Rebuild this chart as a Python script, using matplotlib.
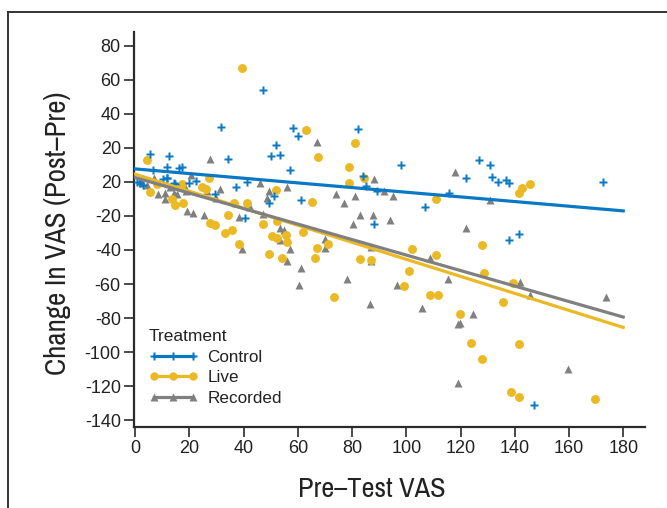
import matplotlib
matplotlib.use("Agg")
import matplotlib.pyplot as plt
from matplotlib.lines import Line2D
from matplotlib import font_manager as fm
import numpy as np

plt.rcParams['font.family'] = ['Liberation Sans', 'DejaVu Sans']

# pick a condensed sans (for the axis titles) if one is installed
def pick_font():
    cands = []
    for f in fm.fontManager.ttflist:
        nm = f.name.lower()
        st = str(f.stretch).lower()
        fn = f.fname.lower()
        if f.weight not in (400, 'normal', 'regular'):
            continue
        if 'italic' in str(f.style).lower() or 'oblique' in str(f.style).lower():
            continue
        if 'bold' in fn or 'oblique' in fn or 'italic' in fn:
            continue
        if 'narrow' in nm or 'narrow' in fn:
            cands.append((0, f.fname))
        elif 'condensed' in nm or 'condensed' in st or 'condensed' in fn:
            cands.append((1, f.fname))
    cands.sort()
    return cands[0][1] if cands else None

font_file = pick_font()
if font_file:
    label_font = dict(fontproperties=fm.FontProperties(fname=font_file))
    cond = True
else:
    label_font = {}
    cond = False

# ---- data ----
control_x = [5.4, 6.6, 12.4, 11.6, 11.6, 0.6, 1.8, 16.3, 17.4, 14.6, 22.3, 31.5, 34.3, 37.1,
             41.3, 40.4, 47.2, 50.2, 52.1, 49.2, 51.1, 53.6, 58.2, 60.2, 57.2, 61.2, 82.1,
             84.2, 85.2, 89.1, 88.1, 98.0, 106.9, 115.9, 121.9, 126.8, 130.8, 131.7, 133.7,
             136.7, 138.0, 172.4, 137.7, 141.6, 147.2, 11.9, 10.2, 14.3, 20.0, 29.6, 3.0]
control_y = [16.6, 6.9, 14.9, 8.8, 2.2, 0.0, -0.4, 8.0, 8.8, -1.0, 0.2, 32.5, 13.7, -3.3,
             0.0, -21.0, 54.0, 14.9, 21.8, -12.7, -8.6, 15.9, 31.8, 26.7, 6.9, -10.4, 30.8,
             3.4, -2.2, -5.3, -25.0, 9.6, -15.0, -6.3, 2.0, 12.7, 9.6, 2.7, 0.0,
             1.0, -0.4, 0.0, -34.3, -30.4, -130.8, 2.5, 1.6, -0.8, -0.8, -6.9, -2.0]

live_x = [39.3, 4.5, 5.5, 27.4, 24.7, 26.0, 8.2, 17.4, 13.7, 14.7, 17.6, 34.3, 36.4, 27.8,
          29.6, 35.8, 41.3, 47.2, 52.1, 52.3, 33.3, 38.2, 49.3, 54.1, 50.5, 52.3, 55.6,
          67.3, 79.0, 84.4, 79.0, 65.2, 110.9, 62.1, 56.2, 67.1, 71.3, 66.2, 83.0, 86.9,
          102.0, 101.0, 110.9, 73.2, 99.2, 108.8, 111.8, 63.1, 81.2, 141.6, 142.5, 145.6,
          127.8, 128.6, 139.4, 135.7, 119.8, 123.7, 127.8, 141.6, 138.8, 141.6, 169.5]
live_y = [66.9, 12.8, -5.7, 2.5, -3.3, -4.3, -1.4, -1.4, -10.2, -13.5, -12.5, -19.4, -12.2, -24.3,
          -25.5, -28.4, -12.5, -24.5, -4.7, -23.0, -30.2, -36.3, -42.5, -44.5, -31.8, -33.1, -31.4,
          14.7, 8.8, 2.5, -0.4, -11.6, -10.2, -29.4, -35.3, -38.6, -36.7, -44.5, -45.5, -46.1,
          -39.6, -52.4, -43.1, -67.5, -61.2, -66.5, -66.5, 30.6, 22.8, -6.3, -3.7, -1.4,
          -37.3, -53.3, -59.2, -70.4, -77.5, -94.5, -104.3, -95.5, -123.5, -126.5, -127.5]

rec_x = [27.5, 20.5, 1.8, 2.6, 4.5, 6.9, 8.5, 11.2, 11.2, 12.7, 15.5, 18.6, 19.2, 21.3, 25.3,
         26.6, 31.2, 30.0, 42.5, 38.2, 46.2, 49.2, 47.2, 53.6, 39.5, 14.3, 18.3, 48.7, 55.0,
         53.3, 56.0, 56.2, 88.1, 91.9, 95.0, 74.2, 81.2, 77.2, 83.0, 87.9, 94.0, 80.2,
         70.1, 70.1, 57.2, 61.2, 60.3, 78.1, 87.0, 87.0, 96.7, 108.8, 115.5, 86.7, 67.1,
         117.9, 121.9, 130.8, 141.9, 145.6, 173.5, 124.7, 119.8, 105.9, 118.9, 159.7, 118.9]
rec_y = [13.7, 3.9, 0.6, -0.4, -1.8, 2.5, -6.9, -6.3, -10.2, -3.3, -6.9, -5.3, -17.1, -18.4, -19.6,
         -5.3, -4.3, -9.2, -14.5, -20.4, -0.4, -5.3, -18.6, -27.2, -39.6, -6.3, -3.3, -9.2, -28.2,
         -34.3, -46.5, -3.3, 1.6, -5.3, -8.6, -7.3, -8.2, -12.5, -19.6, -19.6, -22.5, -24.5,
         -33.7, -38.6, -39.6, -50.4, -60.6, -57.3, -38.2, -46.5, -60.6, -44.5, -57.3, -71.8, 23.5,
         5.5, -26.9, -10.6, -58.6, -66.5, -67.5, -77.5, -82.8, -73.9, -83.7, -109.8, -118.0]

# fitted lines: (intercept, slope)
fit_control = (7.6, -0.137)
fit_live = (4.5, -0.50)
fit_rec = (2.5, -0.455)
fit_x = [0, 180]

series_names = ['Control', 'Live', 'Recorded']
xticks = [0, 20, 40, 60, 80, 100, 120, 140, 160, 180]
yticks = [80, 60, 40, 20, 0, -20, -40, -60, -80, -100, -120, -140]
ytick_labels = ['80', '60', '40', '20', '20', '-20', '-40', '-60', '-80', '-100', '-120', '-140']

# ---- styling ----
c_blue = '#0a78c4'
c_yellow = '#ebb923'
c_gray = '#808080'
axis_c = '#2b2b2b'
txt_c = '#222222'

fig = plt.figure(figsize=(6.67, 5.08), dpi=100)
ax = fig.add_axes([0.2009, 0.1594, 0.766, 0.7776])

# frame around figure
fig.add_artist(Line2D([8/667, 8/667], [0, 1 - 12/508], transform=fig.transFigure,
                      color='#333333', lw=1.4))
fig.add_artist(Line2D([8/667, 1], [1 - 12/508, 1 - 12/508], transform=fig.transFigure,
                      color='#333333', lw=1.4))

ms = 6.4
ax.plot(rec_x, rec_y, linestyle='none', marker='^', ms=ms, color=c_gray, mec='none', zorder=3)
ax.plot(live_x, live_y, linestyle='none', marker='o', ms=ms, color=c_yellow, mec='none', zorder=3)
ax.plot(control_x, control_y, linestyle='none', marker='P', ms=ms, color=c_blue, mec='none', zorder=4)

fx = np.array(fit_x, dtype=float)
ax.plot(fx, fit_control[0] + fit_control[1] * fx, color=c_blue, lw=2.3, zorder=5)
ax.plot(fx, fit_live[0] + fit_live[1] * fx, color=c_yellow, lw=2.3, zorder=5)
ax.plot(fx, fit_rec[0] + fit_rec[1] * fx, color=c_gray, lw=2.3, zorder=5)

ax.set_xlim(-0.4, 188)
ax.set_ylim(-144, 88)
ax.set_xticks(xticks)
ax.set_xticklabels([str(t) for t in xticks])
ax.set_yticks(yticks)
ax.set_yticklabels(ytick_labels)

for s in ['top', 'right']:
    ax.spines[s].set_visible(False)
for s in ['left', 'bottom']:
    ax.spines[s].set_color(axis_c)
    ax.spines[s].set_linewidth(1.6)
ax.tick_params(direction='out', length=7, width=1.2, color=axis_c, labelcolor=txt_c,
               labelsize=13, pad=2.5)

xl = ax.set_xlabel('Pre\u2013Test VAS', color=txt_c, labelpad=12, **label_font)
yl = ax.set_ylabel('Change In VAS (Post\u2013Pre)', color=txt_c, labelpad=10, **label_font)
xl.set_fontsize(20.4 if cond else 17.5)
yl.set_fontsize(20.8 if cond else 16)
ax.xaxis.set_label_coords(0.466, -0.126)
ax.yaxis.set_label_coords(-0.124, 0.49)

handles = [
    Line2D([0], [0], color=c_blue, lw=2.3, marker='P', ms=6, mec='none'),
    Line2D([0], [0], color=c_yellow, lw=2.3, marker='o', ms=6, mec='none'),
    Line2D([0], [0], color=c_gray, lw=2.3, marker='^', ms=6, mec='none'),
]
leg = ax.legend(handles, series_names, title='Treatment', loc='upper left',
                bbox_to_anchor=(0.015, 0.265), frameon=False, numpoints=3,
                handlelength=2.9, handletextpad=0.55, labelspacing=0.32,
                fontsize=12.3, title_fontsize=12.5, borderaxespad=0)
leg._legend_box.align = 'left'
for t in leg.get_texts():
    t.set_color(txt_c)
leg.get_title().set_color(txt_c)

fig.savefig('out.png', dpi=100)
